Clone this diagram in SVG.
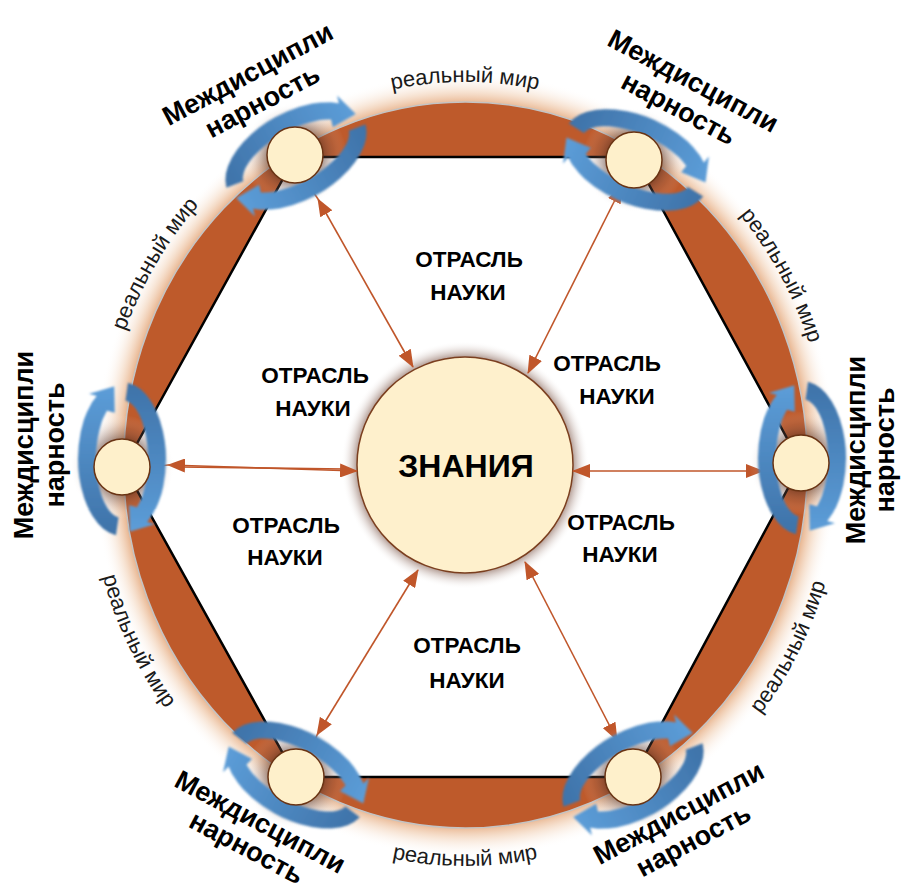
<svg xmlns="http://www.w3.org/2000/svg" width="903" height="895" viewBox="0 0 903 895">
<style>
.rw{font-family:"Liberation Sans",Arial,sans-serif;font-size:22px;fill:#1a1a1a}
.md{font-family:"Liberation Sans",Arial,sans-serif;font-size:27px;font-weight:bold;fill:#000;text-anchor:middle}
.ot{font-family:"Liberation Sans",Arial,sans-serif;font-size:22.5px;font-weight:bold;fill:#000;text-anchor:middle}
.zn{font-family:"Liberation Sans",Arial,sans-serif;font-size:32px;font-weight:bold;fill:#000;text-anchor:middle}
.con{stroke:#C0562A;stroke-width:1.6;fill:none}
.sc{fill:#FEF0CB;stroke:#6A3414;stroke-width:1.5}
</style>
<defs>
<radialGradient id="outerGlow">
<stop offset="0.9" stop-color="#E09A68" stop-opacity="0"/>
<stop offset="0.912" stop-color="#E09A68" stop-opacity="0.9"/>
<stop offset="0.95" stop-color="#EFC7A6" stop-opacity="0.5"/>
<stop offset="1" stop-color="#FFFFFF" stop-opacity="0"/>
</radialGradient>
<radialGradient id="halo">
<stop offset="0.5" stop-color="#4a2a20" stop-opacity="0.55"/>
<stop offset="0.75" stop-color="#8a6a60" stop-opacity="0.22"/>
<stop offset="1" stop-color="#ffffff" stop-opacity="0"/>
</radialGradient>
<radialGradient id="chalo">
<stop offset="0.86" stop-color="#6b4030" stop-opacity="0.6"/>
<stop offset="1" stop-color="#ffffff" stop-opacity="0"/>
</radialGradient>
<linearGradient id="blue" gradientUnits="userSpaceOnUse" x1="-76" y1="0" x2="72" y2="0">
<stop offset="0" stop-color="#3E72A8"/>
<stop offset="1" stop-color="#5C9DD8"/>
</linearGradient>
<filter id="soft" x="-20%" y="-20%" width="140%" height="140%">
<feGaussianBlur stdDeviation="0.9"/>
</filter>
<marker id="ah" viewBox="0 0 18 14" refX="17" refY="7" markerWidth="18" markerHeight="14" markerUnits="userSpaceOnUse" orient="auto-start-reverse">
<path d="M0,0 L18,7 L0,14 Z" fill="#C0562A"/>
</marker>
<path id="arc" d="M -76.25 -6.12 A 77 44 0 0 1 63.08 -25.24 L 65.18 -32.98 L 72.64 -7.65 L 46.24 -7.18 L 48.33 -14.91 A 59 26 0 0 0 -58.43 -3.62 Z" fill="url(#blue)" filter="url(#soft)"/>
<g id="cyc">
<use href="#arc"/>
<use href="#arc" transform="rotate(180)"/>
</g>
<path id="p1" d="M 340.9 105.1 A 363 384 0 0 1 589.1 105.1"/>
<path id="p2" d="M 102.2 452.6 A 363 384 0 0 1 294.6 127.0"/>
<path id="p3" d="M 646.5 133.4 A 363 384 0 0 1 828 466"/>
<path id="p4" d="M 88.5 445.1 A 377 400 0 0 0 259.7 801.5"/>
<path id="p5" d="M 336.1 841.9 A 377 400 0 0 0 593.9 841.9"/>
<path id="p6" d="M 664.8 805.2 A 377 400 0 0 0 841.8 452.0"/>
</defs>

<g id="ring">
<ellipse cx="465.5" cy="465" rx="372" ry="393" fill="url(#outerGlow)"/>
<path d="M 123.5 465 A 342 363 0 1 1 807.5 465 A 342 363 0 1 1 123.5 465 Z M 295 157 L 634 157 L 801 464 L 633 777 L 296 777 L 124 467 Z" fill="#BE5A2B" fill-rule="evenodd"/>
<ellipse cx="465.5" cy="465" rx="342" ry="363" fill="none" stroke="#C4C4C4" stroke-width="1.5"/>
<polygon points="295,157 634,157 801,464 633,777 296,777 124,467" fill="none" stroke="#000" stroke-width="2.5" stroke-linejoin="round"/>
</g>

<g id="real-labels">
<text class="rw" text-anchor="middle"><textPath href="#p1" startOffset="50%">реальный мир</textPath></text>
<text class="rw" text-anchor="middle"><textPath href="#p2" startOffset="50%">реальный мир</textPath></text>
<text class="rw" text-anchor="middle"><textPath href="#p3" startOffset="50%">реальный мир</textPath></text>
<text class="rw" text-anchor="middle"><textPath href="#p4" startOffset="50%">реальный мир</textPath></text>
<text class="rw" text-anchor="middle"><textPath href="#p5" startOffset="50%">реальный мир</textPath></text>
<text class="rw" text-anchor="middle"><textPath href="#p6" startOffset="50%">реальный мир</textPath></text>
</g>

<g id="center">
<circle cx="465" cy="465" r="124" fill="url(#chalo)"/>
<circle cx="465" cy="465" r="108" fill="#FEF0CC" stroke="#7B3F1F" stroke-width="1.5"/>
<text class="zn" x="466" y="477">ЗНАНИЯ</text>
</g>

<g id="connectors">
<line class="con" x1="307" y1="183" x2="318" y2="199"/>
<line class="con" x1="318" y1="199" x2="413" y2="367" marker-start="url(#ah)" marker-end="url(#ah)"/>
<line class="con" x1="622" y1="186" x2="528" y2="373" marker-start="url(#ah)" marker-end="url(#ah)"/>
<line class="con" x1="150" y1="467" x2="168" y2="465"/>
<line class="con" x1="168" y1="465" x2="357" y2="471" marker-start="url(#ah)" marker-end="url(#ah)"/>
<line class="con" x1="180" y1="467" x2="345" y2="469"/>
<line class="con" x1="763" y1="471" x2="573" y2="471" marker-start="url(#ah)" marker-end="url(#ah)"/>
<line class="con" x1="310" y1="753" x2="317" y2="735"/>
<line class="con" x1="317" y1="735" x2="418" y2="570" marker-start="url(#ah)" marker-end="url(#ah)"/>
<line class="con" x1="621" y1="751" x2="617" y2="740"/>
<line class="con" x1="617" y1="740" x2="525" y2="562" marker-start="url(#ah)" marker-end="url(#ah)"/>
</g>

<g id="node-tl">
<circle cx="295" cy="155" r="52" fill="url(#halo)"/>
<use href="#cyc" transform="translate(296,156) rotate(-29)"/>
<circle class="sc" cx="295" cy="155" r="28"/>
</g>
<g id="node-tr">
<circle cx="634" cy="160" r="52" fill="url(#halo)"/>
<use href="#cyc" transform="translate(636,160) rotate(24)"/>
<circle class="sc" cx="634" cy="160" r="28"/>
</g>
<g id="node-l">
<circle cx="122" cy="467" r="52" fill="url(#halo)"/>
<use href="#cyc" transform="translate(122,459) rotate(90)"/>
<circle class="sc" cx="122" cy="467" r="28"/>
</g>
<g id="node-r">
<circle cx="801" cy="463" r="52" fill="url(#halo)"/>
<use href="#cyc" transform="translate(802,458) rotate(90)"/>
<circle class="sc" cx="801" cy="463" r="28"/>
</g>
<g id="node-bl">
<circle cx="296" cy="777" r="52" fill="url(#halo)"/>
<use href="#cyc" transform="translate(296,775) rotate(29)"/>
<circle class="sc" cx="296" cy="777" r="28"/>
</g>
<g id="node-br">
<circle cx="633" cy="777" r="52" fill="url(#halo)"/>
<use href="#cyc" transform="translate(633,775) rotate(-29)"/>
<circle class="sc" cx="633" cy="777" r="28"/>
</g>

<g id="inter-labels">
<g transform="translate(252,82) rotate(-28)"><text class="md" x="0" y="0">Междисципли</text><text class="md" x="0" y="31">нарность</text></g>
<g transform="translate(689,89) rotate(28)"><text class="md" x="0" y="0">Междисципли</text><text class="md" x="0" y="31">нарность</text></g>
<g transform="translate(33,445) rotate(-90)"><text class="md" x="0" y="0">Междисципли</text><text class="md" x="0" y="31">нарность</text></g>
<g transform="translate(865,450) rotate(-90)"><text class="md" x="0" y="0">Междисципли</text><text class="md" x="0" y="29">нарность</text></g>
<g transform="translate(256,830) rotate(28)"><text class="md" x="0" y="0">Междисципли</text><text class="md" x="0" y="29">нарность</text></g>
<g transform="translate(683,821) rotate(-28)"><text class="md" x="0" y="0">Междисципли</text><text class="md" x="0" y="31">нарность</text></g>
</g>

<g id="branch-labels">
<text class="ot" x="469" y="267">ОТРАСЛЬ</text><text class="ot" x="468" y="300">НАУКИ</text>
<text class="ot" x="315" y="383">ОТРАСЛЬ</text><text class="ot" x="313" y="416">НАУКИ</text>
<text class="ot" x="607" y="371">ОТРАСЛЬ</text><text class="ot" x="617" y="404">НАУКИ</text>
<text class="ot" x="286" y="533">ОТРАСЛЬ</text><text class="ot" x="285" y="565">НАУКИ</text>
<text class="ot" x="621" y="530">ОТРАСЛЬ</text><text class="ot" x="620" y="562">НАУКИ</text>
<text class="ot" x="467" y="653">ОТРАСЛЬ</text><text class="ot" x="467" y="688">НАУКИ</text>
</g>
</svg>
